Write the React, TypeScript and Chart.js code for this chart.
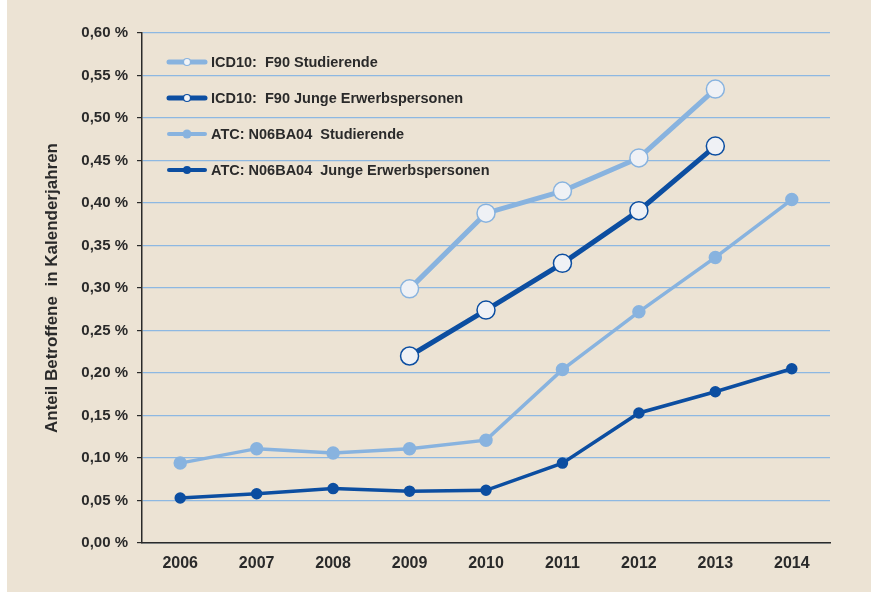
import React, { useEffect, useRef } from "react";
import { Chart, registerables } from "chart.js";

Chart.register(...registerables);

const years = ["2006", "2007", "2008", "2009", "2010", "2011", "2012", "2013", "2014"];
const icdStudierende = [null, null, null, 0.299, 0.388, 0.414, 0.453, 0.534, null];
const icdJunge = [null, null, null, 0.22, 0.274, 0.329, 0.391, 0.467, null];
const atcStudierende = [0.094, 0.111, 0.106, 0.111, 0.121, 0.204, 0.272, 0.336, 0.404];
const atcJunge = [0.053, 0.058, 0.064, 0.061, 0.062, 0.094, 0.153, 0.178, 0.205];
const seriesNames = [
  "ICD10:  F90 Studierende",
  "ICD10:  F90 Junge Erwerbspersonen",
  "ATC: N06BA04  Studierende",
  "ATC: N06BA04  Junge Erwerbspersonen",
];
const yTitle = "Anteil Betroffene  in Kalenderjahren";

const LIGHT = "#88b3df";
const DARK = "#0c4ea1";
const BG = "#ece3d4";
const TEXT = "#2a2a2a";
const FONT = "'Liberation Sans', Arial, Helvetica, sans-serif";

const legendPlugin = {
  id: "insideLegend",
  afterDraw(chart: any) {
    const ctx = chart.ctx;
    const items = [
      { color: LIGHT, lw: 5, r: 3.5, hollow: true, y: 62 },
      { color: DARK, lw: 5, r: 3.5, hollow: true, y: 98 },
      { color: LIGHT, lw: 4, r: 4.5, hollow: false, y: 134 },
      { color: DARK, lw: 4, r: 4, hollow: false, y: 170 },
    ];
    ctx.save();
    items.forEach((it, i) => {
      const x0 = 162;
      const x1 = 198;
      ctx.strokeStyle = it.color;
      ctx.lineWidth = it.lw;
      ctx.lineCap = "round";
      ctx.beginPath();
      ctx.moveTo(x0, it.y);
      ctx.lineTo(x1, it.y);
      ctx.stroke();
      ctx.beginPath();
      ctx.arc((x0 + x1) / 2, it.y, it.r, 0, Math.PI * 2);
      ctx.fillStyle = it.hollow ? "#f2f4f7" : it.color;
      ctx.fill();
      if (it.hollow) {
        ctx.lineWidth = 1.2;
        ctx.strokeStyle = it.color;
        ctx.stroke();
      }
      ctx.fillStyle = TEXT;
      ctx.font = `bold 14.5px ${FONT}`;
      ctx.textBaseline = "middle";
      ctx.textAlign = "left";
      ctx.fillText(seriesNames[i], 204, it.y + 1);
    });
    ctx.restore();
  },
};

export default function App() {
  const ref = useRef<HTMLCanvasElement>(null);
  useEffect(() => {
    document.body.style.margin = "0";
    document.body.style.background = "#ffffff";
    const big = (color: string) => ({
      borderColor: color,
      backgroundColor: color,
      pointBackgroundColor: "#eff1f5",
      pointBorderColor: color,
      pointBorderWidth: 1.5,
      pointRadius: 9,
      borderWidth: 5,
      spanGaps: false,
    });
    const chart = new Chart(ref.current!, {
      type: "line",
      data: {
        labels: years,
        datasets: [
          { label: seriesNames[2], data: atcStudierende, borderColor: LIGHT, backgroundColor: LIGHT, pointBackgroundColor: LIGHT, pointBorderColor: LIGHT, pointRadius: 5, borderWidth: 3.5 },
          { label: seriesNames[3], data: atcJunge, borderColor: DARK, backgroundColor: DARK, pointBackgroundColor: DARK, pointBorderColor: DARK, pointRadius: 4, borderWidth: 3.5 },
          { label: seriesNames[0], data: icdStudierende, ...big(LIGHT) },
          { label: seriesNames[1], data: icdJunge, ...big(DARK) },
        ] as any,
      },
      options: {
        animation: false,
        responsive: false,
        layout: { padding: { top: 33, right: 41, left: 0, bottom: 0 } },
        plugins: { legend: { display: false }, tooltip: { enabled: false } },
        scales: {
          x: {
            offset: true,
            grid: { display: false, drawTicks: false },
            border: { color: "#2a2a2a", width: 1.5 },
            ticks: { color: TEXT, font: { family: FONT, size: 16, weight: "bold" }, padding: 11 },
            afterFit: (s: any) => { s.height = 49; },
          },
          y: {
            min: 0,
            max: 0.6,
            grid: { color: "#8db8e2", lineWidth: 1.2, tickLength: 5, tickColor: "#2a2a2a", drawTicks: true },
            border: { color: "#2a2a2a", width: 1.5 },
            ticks: {
              stepSize: 0.05,
              color: TEXT,
              padding: 9,
              font: { family: FONT, size: 15, weight: "bold" },
              callback: (v: any) => Number(v).toFixed(2).replace(".", ",") + " %",
            },
            title: { display: true, text: yTitle, color: TEXT, font: { family: FONT, size: 17, weight: "bold" }, padding: { top: 35, bottom: 0 } },
            afterFit: (s: any) => { s.width = 135; },
          },
        },
      },
      plugins: [legendPlugin],
    });
    return () => chart.destroy();
  }, []);
  return (
    <div style={{ marginLeft: 7, width: 864, height: 592, background: BG }}>
      <canvas ref={ref} width={864} height={592} style={{ display: "block" }} />
    </div>
  );
}
